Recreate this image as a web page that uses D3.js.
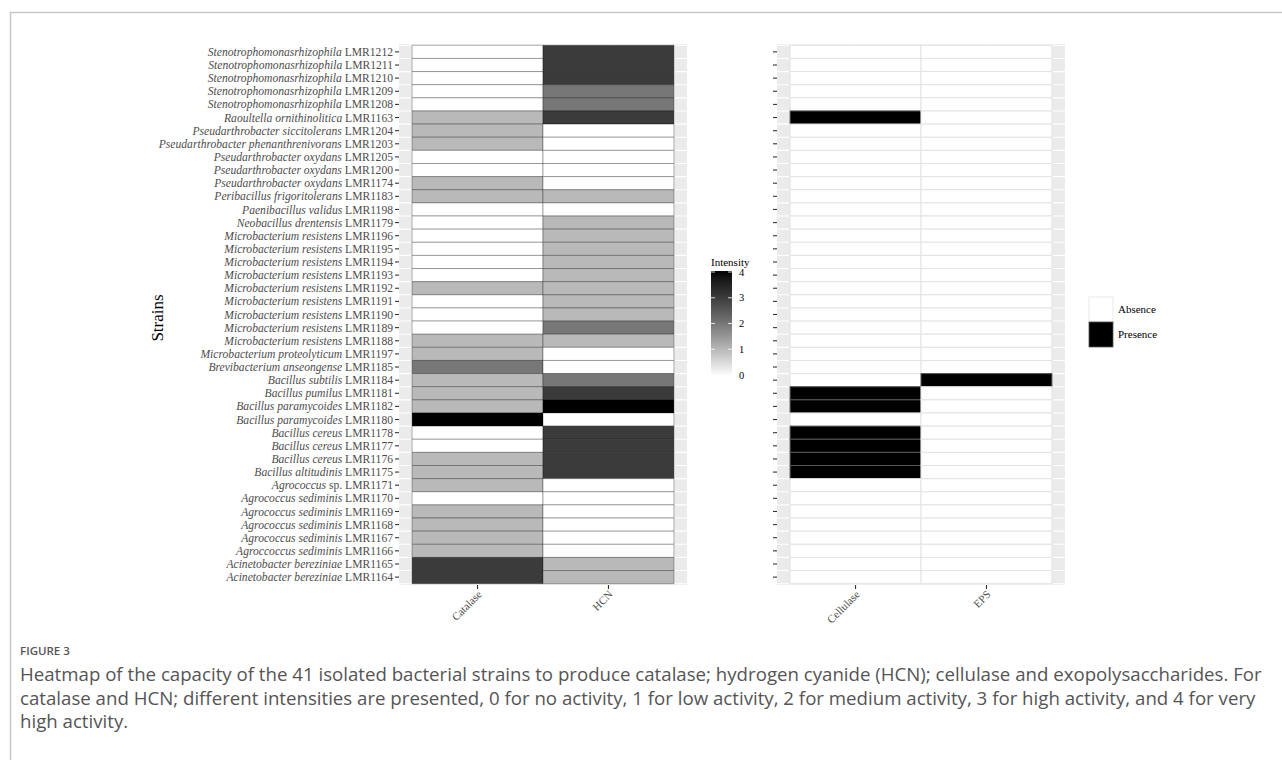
<!DOCTYPE html>
<html>
<head>
<meta charset="utf-8">
<script src="https://cdn.jsdelivr.net/npm/d3@7"></script>
<style>
	body { margin: 0; background: #fff; }
	svg { display: block; }
</style>
</head>
<body>
<svg id="chart" width="1282" height="760"></svg>
<script>
// strains, top to bottom as in the figure
var strainNames = [
	'Stenotrophomonasrhizophila', 'Stenotrophomonasrhizophila', 'Stenotrophomonasrhizophila',
	'Stenotrophomonasrhizophila', 'Stenotrophomonasrhizophila', 'Raoultella ornithinolitica',
	'Pseudarthrobacter siccitolerans', 'Pseudarthrobacter phenanthrenivorans', 'Pseudarthrobacter oxydans',
	'Pseudarthrobacter oxydans', 'Pseudarthrobacter oxydans', 'Peribacillus frigoritolerans',
	'Paenibacillus validus', 'Neobacillus drentensis', 'Microbacterium resistens',
	'Microbacterium resistens', 'Microbacterium resistens', 'Microbacterium resistens',
	'Microbacterium resistens', 'Microbacterium resistens', 'Microbacterium resistens',
	'Microbacterium resistens', 'Microbacterium resistens', 'Microbacterium proteolyticum',
	'Brevibacterium anseongense', 'Bacillus subtilis', 'Bacillus pumilus',
	'Bacillus paramycoides', 'Bacillus paramycoides', 'Bacillus cereus',
	'Bacillus cereus', 'Bacillus cereus', 'Bacillus altitudinis',
	'Agrococcus sp.', 'Agrococcus sediminis', 'Agrococcus sediminis',
	'Agrococcus sediminis', 'Agrococcus sediminis', 'Agroccoccus sediminis',
	'Acinetobacter bereziniae', 'Acinetobacter bereziniae'
];
var strainCodes = [
	'LMR1212', 'LMR1211', 'LMR1210', 'LMR1209', 'LMR1208', 'LMR1163',
	'LMR1204', 'LMR1203', 'LMR1205', 'LMR1200', 'LMR1174', 'LMR1183',
	'LMR1198', 'LMR1179', 'LMR1196', 'LMR1195', 'LMR1194', 'LMR1193',
	'LMR1192', 'LMR1191', 'LMR1190', 'LMR1189', 'LMR1188', 'LMR1197',
	'LMR1185', 'LMR1184', 'LMR1181', 'LMR1182', 'LMR1180', 'LMR1178',
	'LMR1177', 'LMR1176', 'LMR1175', 'LMR1171', 'LMR1170', 'LMR1169',
	'LMR1168', 'LMR1167', 'LMR1166', 'LMR1165', 'LMR1164'
];

// intensities 0..4
var catalase = [0,0,0,0,0,1, 1,1,0,0,1,1, 0,0,0,0,0,0, 1,0,0,0,1,1, 2,1,1,1,4,0, 0,1,1,1,0,1, 1,1,1,3,3];
var hcn      = [3,3,3,2,2,3, 0,0,0,0,0,1, 0,1,1,1,1,1, 1,1,1,2,1,0, 0,2,3,4,0,3, 3,3,3,0,0,0, 0,0,0,1,1];

// absence (0) / presence (1)
var cellulase = [0,0,0,0,0,1, 0,0,0,0,0,0, 0,0,0,0,0,0, 0,0,0,0,0,0, 0,0,1,1,0,1, 1,1,1,0,0,0, 0,0,0,0,0];
var eps       = [0,0,0,0,0,0, 0,0,0,0,0,0, 0,0,0,0,0,0, 0,0,0,0,0,0, 0,1,0,0,0,0, 0,0,0,0,0,0, 0,0,0,0,0];

var intensityCols = ['Catalase', 'HCN'];
var presenceCols = ['Cellulase', 'EPS'];
var intensityTicks = [0, 1, 2, 3, 4];
var presenceLabels = ['Absence', 'Presence'];

var figureLabel = 'FIGURE 3';
var captionLines = [
	'Heatmap of the capacity of the 41 isolated bacterial strains to produce catalase; hydrogen cyanide (HCN); cellulase and exopolysaccharides. For',
	'catalase and HCN; different intensities are presented, 0 for no activity, 1 for low activity, 2 for medium activity, 3 for high activity, and 4 for very',
	'high activity.'
];

var SERIF = '"Liberation Serif", "Times New Roman", serif';
var svg = d3.select('#chart');

// frame round the figure
svg.append('path')
	.attr('d', 'M10.5,760 L10.5,12.5 L1282,12.5')
	.attr('fill', 'none')
	.attr('stroke', '#c8c8c8')
	.attr('stroke-width', 1.5);

var rowKeys = strainCodes.map(function(d, i){ return i; });
var y = d3.scaleBand().domain(rowKeys).range([44, 585]).paddingInner(0).paddingOuter(0.1);

var xLeft = d3.scaleBand().domain(intensityCols).range([399, 687]).paddingInner(0).paddingOuter(0.1);
var xRight = d3.scaleBand().domain(presenceCols).range([777, 1065]).paddingInner(0).paddingOuter(0.1);

var grey = d3.scaleLinear().domain([0, 4]).range(['#ffffff', '#000000']).interpolate(d3.interpolateLab);

function drawPanel(x, cols, values, fillFn, strokeFn, withLabels){
	var range = x.range();
	var yr = y.range();
	var g = svg.append('g');

	g.append('rect')
		.attr('x', range[0]).attr('y', yr[0])
		.attr('width', range[1] - range[0]).attr('height', yr[1] - yr[0])
		.attr('fill', '#ebebeb');

	// white grid
	var bounds = rowKeys.map(function(k){ return y(k); }).concat([y(rowKeys[rowKeys.length-1]) + y.bandwidth()]);
	g.selectAll('line.hgrid').data(bounds).enter().append('line')
		.attr('class', 'hgrid')
		.attr('x1', range[0]).attr('x2', range[1])
		.attr('y1', function(d){ return d; }).attr('y2', function(d){ return d; })
		.attr('stroke', '#fff').attr('stroke-width', 1.1);
	g.selectAll('line.vgrid').data(cols).enter().append('line')
		.attr('class', 'vgrid')
		.attr('x1', function(d){ return x(d) + x.bandwidth()/2; })
		.attr('x2', function(d){ return x(d) + x.bandwidth()/2; })
		.attr('y1', yr[0]).attr('y2', yr[1])
		.attr('stroke', '#fff').attr('stroke-width', 1.1);

	// tiles
	var cells = [];
	cols.forEach(function(c, ci){
		values[ci].forEach(function(v, ri){
			cells.push({col: c, row: ri, value: v});
		});
	});
	g.selectAll('rect.tile').data(cells).enter().append('rect')
		.attr('class', 'tile')
		.attr('x', function(d){ return x(d.col); })
		.attr('y', function(d){ return y(d.row); })
		.attr('width', x.bandwidth())
		.attr('height', y.bandwidth())
		.attr('fill', function(d){ return fillFn(d.value); })
		.attr('stroke', function(d){ return strokeFn(d.value); })
		.attr('stroke-width', 1);

	// y axis ticks
	g.selectAll('line.ytick').data(rowKeys).enter().append('line')
		.attr('class', 'ytick')
		.attr('x1', range[0] - 4).attr('x2', range[0])
		.attr('y1', function(d){ return y(d) + y.bandwidth()/2; })
		.attr('y2', function(d){ return y(d) + y.bandwidth()/2; })
		.attr('stroke', '#333').attr('stroke-width', 1.1);

	// x axis ticks and labels
	g.selectAll('line.xtick').data(cols).enter().append('line')
		.attr('class', 'xtick')
		.attr('x1', function(d){ return x(d) + x.bandwidth()/2; })
		.attr('x2', function(d){ return x(d) + x.bandwidth()/2; })
		.attr('y1', yr[1]).attr('y2', yr[1] + 4)
		.attr('stroke', '#333').attr('stroke-width', 1.1);
	g.selectAll('text.xlab').data(cols).enter().append('text')
		.attr('class', 'xlab')
		.attr('transform', function(d){
			return 'translate(' + (x(d) + x.bandwidth()/2 + 5) + ',' + (yr[1] + 10) + ') rotate(-45)';
		})
		.attr('text-anchor', 'end')
		.attr('font-family', SERIF)
		.attr('font-size', 11)
		.attr('fill', '#4d4d4d')
		.text(function(d){ return d; });

	if (withLabels){
		var labels = g.selectAll('text.ylab').data(rowKeys).enter().append('text')
			.attr('class', 'ylab')
			.attr('x', range[0] - 6)
			.attr('y', function(d){ return y(d) + y.bandwidth()/2; })
			.attr('dy', '0.35em')
			.attr('text-anchor', 'end')
			.attr('font-family', SERIF)
			.attr('font-size', 11.6)
			.attr('fill', '#4d4d4d');
		labels.each(function(i){
			var t = d3.select(this);
			var name = strainNames[i];
			var suffix = '';
			if (/ sp\.$/.test(name)){
				suffix = ' sp.';
				name = name.replace(/ sp\.$/, '');
			}
			t.append('tspan').attr('font-style', 'italic').text(name);
			t.append('tspan').text(suffix + ' ' + strainCodes[i]);
		});
	}
}

drawPanel(xLeft, intensityCols, [catalase, hcn],
	function(v){ return grey(v); },
	function(v){ return 'rgba(0,0,0,0.3)'; },
	true);

drawPanel(xRight, presenceCols, [cellulase, eps],
	function(v){ return v ? '#000' : '#fff'; },
	function(v){ return v ? '#555' : '#e3e3e3'; },
	false);

// y title
svg.append('text')
	.attr('transform', 'translate(163,318) rotate(-90)')
	.attr('text-anchor', 'middle')
	.attr('font-family', SERIF)
	.attr('font-size', 17)
	.attr('fill', '#000')
	.text('Strains');

// colour bar legend
var barX = 711, barW = 21, barTop = 271, barBot = 376;
var barScale = d3.scaleLinear().domain([0, 4]).range([barBot - 1, barTop + 1]);
var defs = svg.append('defs');
var grad = defs.append('linearGradient').attr('id', 'intensityGrad')
	.attr('x1', 0).attr('y1', 1).attr('x2', 0).attr('y2', 0);
d3.range(0, 4.01, 0.25).forEach(function(v){
	grad.append('stop').attr('offset', v / 4).attr('stop-color', grey(v));
});
svg.append('text')
	.attr('x', barX).attr('y', barTop - 5)
	.attr('font-family', SERIF).attr('font-size', 11)
	.attr('fill', '#000')
	.text('Intensity');
svg.append('rect')
	.attr('x', barX).attr('y', barTop)
	.attr('width', barW).attr('height', barBot - barTop)
	.attr('fill', 'url(#intensityGrad)');
var barTicks = svg.append('g');
intensityTicks.forEach(function(v){
	var ty = barScale(v);
	barTicks.append('line').attr('x1', barX).attr('x2', barX + 4)
		.attr('y1', ty).attr('y2', ty).attr('stroke', '#fff').attr('stroke-width', 0.8);
	barTicks.append('line').attr('x1', barX + barW - 4).attr('x2', barX + barW)
		.attr('y1', ty).attr('y2', ty).attr('stroke', '#fff').attr('stroke-width', 0.8);
	barTicks.append('text')
		.attr('x', barX + barW + 7).attr('y', ty).attr('dy', '0.35em')
		.attr('font-family', SERIF).attr('font-size', 10.5)
		.attr('fill', '#000')
		.text(v);
});

// presence legend
var keySize = 25;
var keyScale = d3.scaleBand().domain(presenceLabels).range([297, 297 + keySize * 2]);
var keys = svg.append('g').selectAll('g').data(presenceLabels).enter().append('g');
keys.append('rect')
	.attr('x', 1089).attr('y', function(d){ return keyScale(d); })
	.attr('width', 24).attr('height', keyScale.bandwidth())
	.attr('fill', function(d, i){ return i ? '#000' : '#fff'; })
	.attr('stroke', function(d, i){ return i ? '#555' : '#e3e3e3'; })
	.attr('stroke-width', 0.8);
keys.append('text')
	.attr('x', 1118).attr('y', function(d){ return keyScale(d) + keyScale.bandwidth()/2; })
	.attr('dy', '0.35em')
	.attr('font-family', SERIF).attr('font-size', 11)
	.attr('fill', '#000')
	.text(function(d){ return d; });

// caption
var SANS = '"Open Sans", "Noto Sans", sans-serif';
svg.append('text')
	.attr('x', 20).attr('y', 655)
	.attr('font-family', SANS).attr('font-size', 11.5).attr('font-weight', 600)
	.attr('fill', '#555')
	.text(figureLabel);

var caption = svg.append('g');
var capSize = 15;
caption.selectAll('text').data(captionLines).enter().append('text')
	.attr('x', 20)
	.attr('y', function(d, i){ return 681 + i * 23.5; })
	.attr('font-family', SANS)
	.attr('font-size', capSize)
	.attr('fill', '#555')
	.text(function(d){ return d; });

// fit the first caption line to the printed width
var firstLen = caption.select('text').node().getComputedTextLength();
var fitSize = capSize * 1242 / firstLen;
caption.selectAll('text').attr('font-size', fitSize);
</script>
</body>
</html>
